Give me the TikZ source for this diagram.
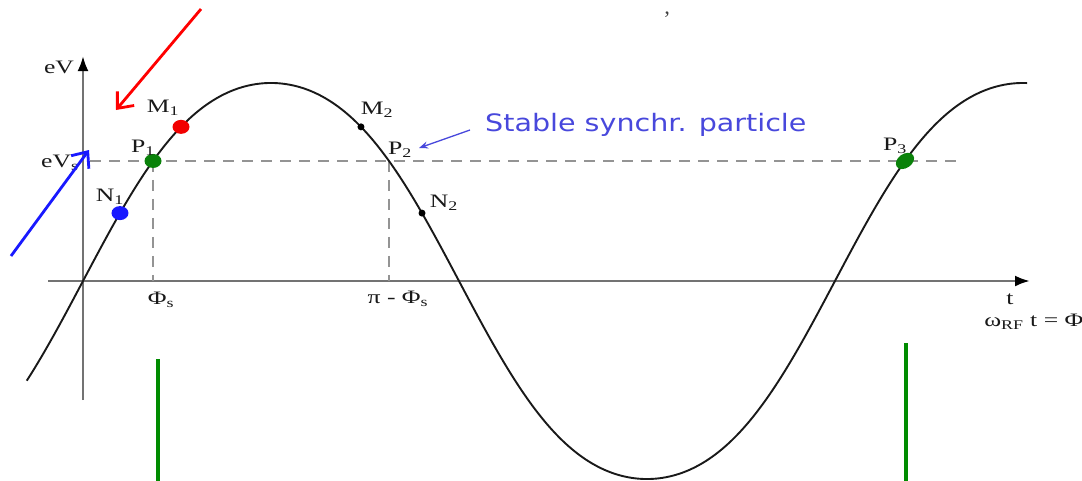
\documentclass[tikz,border=0pt]{standalone}
\usepackage{fontspec}
\setmainfont{Liberation Serif}
\newfontfamily\notefont{DejaVu Sans}
\usepackage{tikz}
\usetikzlibrary{arrows.meta}
\usetikzlibrary{shapes.geometric}
\usetikzlibrary{positioning}
\definecolor{notecol}{RGB}{72,72,220}
\definecolor{dotgreen}{RGB}{10,130,10}

\begin{document}
\begin{tikzpicture}[x=1pt,y=-1pt,
        declare function={xw(\u)=83+119.68*\u; yw(\u)=281-205*(sin(\u r)+0.034*sin(3*\u r));},
        axis/.style={black!55,line width=2.6pt},
        guide/.style={black!42,line width=1.3pt,dash pattern=on 11pt off 8pt},
        lbl/.style={text=black!90,font=\fontsize{19}{21}\selectfont,inner sep=0pt,xscale=1.35},
        blob/.style={ellipse,minimum width=17pt,minimum height=14pt,inner sep=0pt},
        smalldot/.style={circle,fill=black,minimum size=7pt,inner sep=0pt},
        hint/.style={line width=2.8pt,-{Straight Barb[length=13pt,width=22pt]}}]
    \useasboundingbox (0,0) rectangle (1082,480);

    \coordinate (xs) at (48,281);
    \coordinate (xe) at (1030,281);
    \coordinate (ys) at (83,400);
    \coordinate (ye) at (83,56);
    \draw[axis,-{Latex[length=15pt,width=11pt,color=black]}] (xs) -- (xe);
    \draw[axis,-{Latex[length=15pt,width=11pt,color=black]}] (ys) -- (ye);

    \coordinate (cP1) at ({xw(0.585)},{yw(0.585)});
    \coordinate (cP2) at ({xw(pi-0.585)},{yw(pi-0.585)});
    \coordinate (cP3) at ({xw(0.585+2*pi)},{yw(0.585+2*pi)});
    \coordinate (gl) at (90,{yw(0.585)});
    \coordinate (gr) at (958,{yw(0.585)});
    \draw[guide] (gl) -- (gr);
    \draw[guide] (cP1) -- (cP1 |- xs);
    \draw[guide] (cP2) -- (cP2 |- xs);

    \draw[black!90,line width=1.9pt,domain=-0.47:7.89,samples=300,smooth,variable=\u]
        plot ({xw(\u)},{yw(\u)});

    \node[blob,fill=red!95!black] (M1) at ({xw(0.819)},{yw(0.819)}) {};
    \node[blob,fill=dotgreen] (P1) at (cP1) {};
    \node[blob,fill=blue!90] (N1) at ({xw(0.309)},{yw(0.309)}) {};
    \node[smalldot] (M2) at ({xw(pi-0.819)},{yw(pi-0.819)}) {};
    \node[smalldot] (N2) at ({xw(pi-0.309)},{yw(pi-0.309)}) {};
    \node[blob,fill=dotgreen,minimum width=20pt,rotate=35] (P3) at (cP3) {};

    \node[lbl] (eV) at (59,67) {eV};
    \node[lbl] (eVs) at (60,163) {eV\textsubscript{s}};
    \node[lbl] (lM1) at (163,108) {M\textsubscript{1}};
    \node[lbl] (lP1) at (143,148) {P\textsubscript{1}};
    \node[lbl] (lN1) at (110,197) {N\textsubscript{1}};
    \node[lbl] (lM2) at (377,110) {M\textsubscript{2}};
    \node[lbl] (lP2) at (400,150) {P\textsubscript{2}};
    \node[lbl] (lN2) at (444,203) {N\textsubscript{2}};
    \node[lbl] (lP3) at (895,146) {P\textsubscript{3}};
    \node[lbl] (phis) at (161,300) {Φ\textsubscript{s}};
    \node[lbl] (piphis) at (398,299) {π - Φ\textsubscript{s}};
    \node[lbl] (tt) at (1010,299) {t};
    \node[lbl,anchor=west] (omega) at (984,322) {ω\textsubscript{RF} t = Φ};
    \node[text=black!75,font=\fontsize{22}{22}\selectfont] (tick) at (667,19) {'};

    \node[text=notecol,font=\notefont\fontsize{24}{26}\selectfont,anchor=west,xscale=1.19] (note) at (481,125) {Stable synchr. particle};
    \coordinate (na) at (470,130);
    \coordinate (nb) at (419,148);
    \draw[notecol,line width=1.3pt,-{Stealth[length=9pt,width=7pt]}] (na) -- (nb);

    \coordinate (ra) at (201,9);
    \coordinate (rb) at (116,110);
    \draw[hint,red] (ra) -- (rb);
    \coordinate (ba) at (11,256);
    \coordinate (bb) at (89,150);
    \draw[hint,blue!90] (ba) -- (bb);

    \coordinate (g1t) at (158,359);
    \coordinate (g1b) at (158,482);
    \coordinate (g2t) at (906,343);
    \coordinate (g2b) at (906,482);
    \draw[green!55!black,line width=3.2pt] (g1t) -- (g1b);
    \draw[green!55!black,line width=3.2pt] (g2t) -- (g2b);
\end{tikzpicture}
\end{document}
